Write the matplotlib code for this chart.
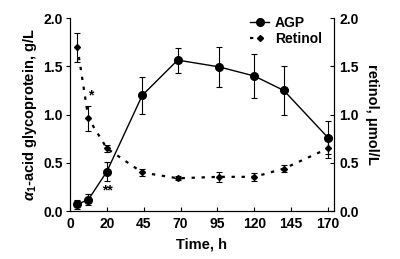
import numpy as np
import matplotlib
matplotlib.use("Agg")
import matplotlib.pyplot as plt
from matplotlib.lines import Line2D

plt.rcParams["font.family"] = ["Liberation Sans", "DejaVu Sans"]
plt.rcParams["font.weight"] = "bold"
plt.rcParams["axes.labelweight"] = "bold"
plt.rcParams["font.size"] = 10
plt.rcParams["mathtext.fontset"] = "custom"
plt.rcParams["mathtext.rm"] = "Liberation Sans:bold"
plt.rcParams["mathtext.it"] = "Liberation Sans:italic:bold"

time_h = [4, 10, 20, 44, 68, 96, 120, 140, 170]
agp = [0.07, 0.12, 0.41, 1.20, 1.565, 1.495, 1.40, 1.25, 0.76]
agp_err = [0.05, 0.06, 0.10, 0.19, 0.13, 0.21, 0.23, 0.25, 0.17]
retinol = [1.70, 0.96, 0.65, 0.40, 0.34, 0.355, 0.355, 0.44, 0.65]
retinol_err = [0.15, 0.13, 0.04, 0.04, 0.02, 0.05, 0.04, 0.04, 0.10]
xticks = [0, 20, 45, 70, 95, 120, 145, 170]
yticks = [0.0, 0.5, 1.0, 1.5, 2.0]


# first 20 h squeezed into the same width as each later 25 h step
def fwd(t):
    t = np.asarray(t, dtype=float)
    return np.where(t <= 20, t / 20, 1 + (t - 20) / 25)


def inv(u):
    u = np.asarray(u, dtype=float)
    return np.where(u <= 1, u * 20, 20 + (u - 1) * 25)


fig = plt.figure(figsize=(4.0, 2.59), dpi=100)
ax = fig.add_axes([0.175, 0.185, 0.66, 0.745])
ax.set_xscale("function", functions=(fwd, inv))
ax2 = ax.twinx()

agp_style = dict(color="black", lw=1.0, marker="o", ms=5.5)
ret_style = dict(color="black", lw=1.6, ls=(0, (1.5, 3)), marker="D", ms=3)

ax.errorbar(time_h, agp, yerr=agp_err, capsize=2.5, elinewidth=0.8,
            capthick=0.8, **agp_style)
ax2.errorbar(time_h, retinol, yerr=retinol_err, capsize=2.5, elinewidth=0.8,
             capthick=0.8, **ret_style)

ax.text(11.5, 1.2, "*", ha="center", va="center", fontsize=10)
ax.text(20.5, 0.21, "**", ha="center", va="center", fontsize=10)

ax.set_xlim(0, 174)
ax.set_ylim(0, 2.0)
ax2.set_ylim(0, 2.0)
ax.set_xticks(xticks)
ax.set_xticklabels([str(x) for x in xticks])
ax.xaxis.set_minor_locator(matplotlib.ticker.NullLocator())
ax.set_yticks(yticks)
ax2.set_yticks(yticks)
ax.yaxis.set_major_formatter(matplotlib.ticker.FormatStrFormatter("%.1f"))
ax2.yaxis.set_major_formatter(matplotlib.ticker.FormatStrFormatter("%.1f"))

for a in (ax, ax2):
    a.spines["top"].set_visible(False)
    for s in a.spines.values():
        s.set_linewidth(0.8)
ax.tick_params(axis="x", direction="in", length=3, width=0.8, pad=4)
ax.tick_params(axis="y", direction="out", length=3, width=0.8, pad=2)
ax2.tick_params(axis="y", direction="in", length=3, width=0.8, pad=4)

ax.set_xlabel("Time, h", labelpad=5, fontsize=10.5)
ax.set_ylabel(r"$\alpha_1$-acid glycoprotein, g/L", labelpad=3, fontsize=10.5)
ax2.set_ylabel("retinol, μmol/L", rotation=270, labelpad=14, fontsize=10.5)

handles = [Line2D([], [], **agp_style), Line2D([], [], **ret_style)]
ax.legend(handles, ["AGP", "Retinol"], loc="upper left",
          bbox_to_anchor=(0.66, 1.04), frameon=False, handlelength=1.4,
          handletextpad=0.4, labelspacing=0.15, borderaxespad=0)

fig.savefig("out.png", dpi=100)
